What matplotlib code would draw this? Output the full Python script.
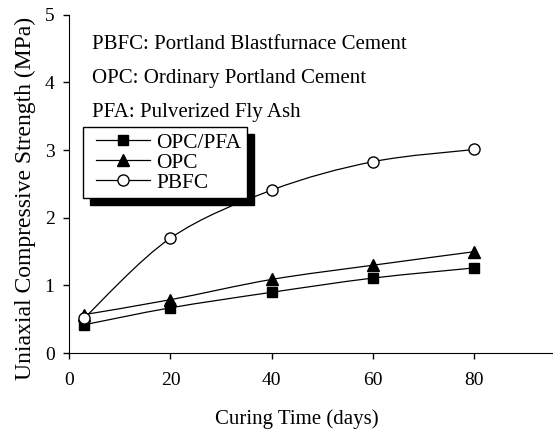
import numpy as np
import matplotlib
matplotlib.use("Agg")
import matplotlib.pyplot as plt
from matplotlib.path import Path
from matplotlib.patches import PathPatch
from matplotlib.legend_handler import HandlerLine2D

days = [3, 20, 40, 60, 80]
opc_pfa = [0.42, 0.67, 0.90, 1.11, 1.26]
opc = [0.57, 0.79, 1.09, 1.30, 1.50]
pbfc = [0.52, 1.70, 2.41, 2.83, 3.01]

notes = ["PBFC: Portland Blastfurnace Cement",
         "OPC: Ordinary Portland Cement",
         "PFA: Pulverized Fly Ash"]

plt.rcParams['font.family'] = ['Liberation Serif', 'DejaVu Serif']
plt.rcParams['font.size'] = 15


def smooth_path(x, y):
    # Excel-style smoothed line: Catmull-Rom segments as cubic Bezier curves
    x = np.asarray(x, float)
    y = np.asarray(y, float)
    px = np.concatenate([[x[0]], x, [x[-1]]])
    py = np.concatenate([[y[0]], y, [y[-1]]])
    verts = [(x[0], y[0])]
    codes = [Path.MOVETO]
    for i in range(1, len(px) - 2):
        c1 = (px[i] + (px[i + 1] - px[i - 1]) / 6, py[i] + (py[i + 1] - py[i - 1]) / 6)
        c2 = (px[i + 1] - (px[i + 2] - px[i]) / 6, py[i + 1] - (py[i + 2] - py[i]) / 6)
        verts += [c1, c2, (px[i + 1], py[i + 1])]
        codes += [Path.CURVE4] * 3
    return Path(verts, codes)


fig = plt.figure(figsize=(5.53, 4.36), dpi=100)
ax = fig.add_axes([0.125, 0.19, 0.875, 0.776])

series = [(opc_pfa, 's', 'black', 'OPC/PFA', 7.2),
          (opc, '^', 'black', 'OPC', 9),
          (pbfc, 'o', 'white', 'PBFC', 8)]
for vals, mk, fc, lab, ms in series:
    ax.add_patch(PathPatch(smooth_path(days, vals), fill=False, lw=0.9, ec='black'))
    ax.plot(days, vals, ls='none', marker=mk, ms=ms, mfc=fc, mec='black', mew=1)
    ax.plot([], [], color='black', lw=0.9, marker=mk, ms=ms, mfc=fc, mec='black', mew=1, label=lab)

ax.set_xlim(0, 95.5)
ax.set_ylim(0, 5)
ax.set_xticks([0, 20, 40, 60, 80])
ax.set_yticks([0, 1, 2, 3, 4, 5])
ax.spines['top'].set_visible(False)
ax.spines['right'].set_visible(False)
ax.tick_params(direction='out', length=4.5, width=1, labelsize=14)
ax.tick_params(axis='x', pad=9)
ax.tick_params(axis='y', pad=6)
ax.set_xlabel('Curing Time (days)', fontsize=15)
ax.xaxis.set_label_coords(45 / 95.5, -0.165)
ax.set_ylabel('Uniaxial Compressive Strength (MPa)', fontsize=17)
ax.yaxis.set_label_coords(-0.069, 0.458)

for i, t in enumerate(notes):
    ax.text(0.0475, 0.911 - i * 0.1, t, transform=ax.transAxes, fontsize=15, va='center')

hmap = {h: HandlerLine2D(xpad=0.36) for h in ax.get_legend_handles_labels()[0]}
leg = ax.legend(loc='upper left', bbox_to_anchor=(0.0287, 0.667), fancybox=False,
                shadow={'color': 'black', 'alpha': 1, 'ox': 5, 'oy': -5},
                edgecolor='black', framealpha=1, fontsize=15.4, handlelength=2.86,
                borderpad=0.25, labelspacing=0.0, handletextpad=0.33, borderaxespad=0,
                handler_map=hmap)
leg.get_frame().set_linewidth(1)

fig.savefig('out.png', dpi=100)
